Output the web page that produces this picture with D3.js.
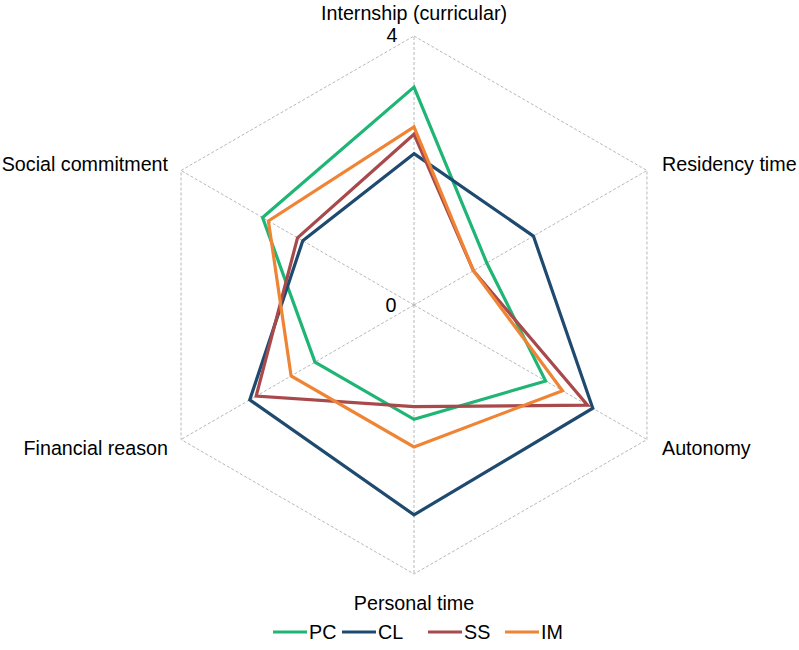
<!DOCTYPE html>
<html>
<head>
<meta charset="utf-8">
<script src="https://cdn.jsdelivr.net/npm/d3@7"></script>
<style>
  body { margin: 0; background: #fff; }
  svg { display: block; }
</style>
</head>
<body>
<div id="chart"></div>
<script>
// axes go clockwise from the top
var axes = ["Internship (curricular)", "Residency time", "Autonomy", "Personal time", "Financial reason", "Social commitment"];
var seriesNames = ["PC", "CL", "SS", "IM"];
var seriesColors = ["#1fb574", "#1f4a70", "#a84a4b", "#ee8434"];

var PC = [3.24, 1.25, 2.26, 1.70, 1.70, 2.60];
var CL = [2.25, 2.05, 3.07, 3.12, 2.82, 1.91];
var SS = [2.54, 1.02, 2.98, 1.51, 2.71, 2.00];
var IM = [2.65, 1.02, 2.55, 2.11, 2.11, 2.50];
var seriesValues = [PC, CL, SS, IM];

var tickLabels = ["0", "4"];

var width = 799, height = 650;
var cx = 414, cy = 305;
var font = "'Liberation Sans', Arial, sans-serif";
var fontSize = 19.7;

var svg = d3.select("#chart").append("svg")
    .attr("width", width)
    .attr("height", height);

var r = d3.scaleLinear().domain([0, 4]).range([0, 269]);
var angle = d3.scaleLinear().domain([0, axes.length]).range([0, 2 * Math.PI]);

var g = svg.append("g").attr("transform", "translate(" + cx + "," + cy + ")");

function px(i, v) { return r(v) * Math.sin(angle(i)); }
function py(i, v) { return -r(v) * Math.cos(angle(i)); }

// outer hexagon
var ring = axes.map(function (a, i) { return [px(i, 4), py(i, 4)]; });
g.append("path")
    .attr("d", d3.line()(ring) + "Z")
    .attr("fill", "none")
    .attr("stroke", "#b8b8b8")
    .attr("stroke-width", 1)
    .attr("stroke-dasharray", "3,2");

// spokes
axes.forEach(function (a, i) {
    g.append("line")
        .attr("x1", 0).attr("y1", 0)
        .attr("x2", px(i, 4)).attr("y2", py(i, 4))
        .attr("stroke", "#b8b8b8")
        .attr("stroke-width", 1)
        .attr("stroke-dasharray", "3,2");
});

// series
var radial = d3.lineRadial()
    .angle(function (d, i) { return angle(i); })
    .radius(function (d) { return r(d); })
    .curve(d3.curveLinearClosed);

seriesValues.forEach(function (vals, k) {
    g.append("path")
        .attr("d", radial(vals))
        .attr("fill", "none")
        .attr("stroke", seriesColors[k])
        .attr("stroke-width", 3.2)
        .attr("stroke-linejoin", "miter");
});

// tick labels
g.append("text")
    .attr("x", -22).attr("y", py(0, 4) + 6)
    .attr("text-anchor", "middle")
    .attr("font-family", font).attr("font-size", fontSize)
    .text(tickLabels[1]);
g.append("text")
    .attr("x", -23).attr("y", 7)
    .attr("text-anchor", "middle")
    .attr("font-family", font).attr("font-size", fontSize)
    .text(tickLabels[0]);

// axis labels
var labelPos = [
    { x: 0, y: -285, anchor: "middle" },
    { x: 248, y: -134, anchor: "start" },
    { x: 248, y: 150, anchor: "start" },
    { x: 0, y: 305, anchor: "middle" },
    { x: -246, y: 150, anchor: "end" },
    { x: -246, y: -134, anchor: "end" }
];
axes.forEach(function (a, i) {
    g.append("text")
        .attr("x", labelPos[i].x).attr("y", labelPos[i].y)
        .attr("text-anchor", labelPos[i].anchor)
        .attr("font-family", font).attr("font-size", fontSize)
        .text(a);
});

// legend
var legendX = [273, 342, 428, 505];
var legend = svg.append("g");
seriesNames.forEach(function (s, k) {
    legend.append("line")
        .attr("x1", legendX[k]).attr("x2", legendX[k] + 34)
        .attr("y1", 632).attr("y2", 632)
        .attr("stroke", seriesColors[k])
        .attr("stroke-width", 3.2);
    legend.append("text")
        .attr("x", legendX[k] + 36).attr("y", 639)
        .attr("font-family", font).attr("font-size", fontSize)
        .text(s);
});
</script>
</body>
</html>
